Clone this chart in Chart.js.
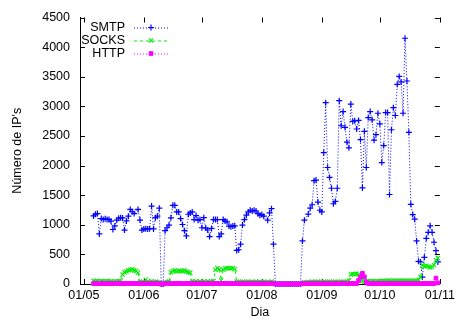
<!DOCTYPE html>
<html>
<head>
<meta charset="utf-8">
<script src="https://cdn.jsdelivr.net/npm/chart.js@4/dist/chart.umd.min.js"></script>
<style>
  html, body { margin: 0; padding: 0; background: #fff; }
  #wrap { width: 459px; height: 326px; }
</style>
</head>
<body>
<div id="wrap"><canvas id="c" width="459" height="326"></canvas></div>
<script>
// Day 0 = 1 May; one value per day from 6 May (day 5) to 31 Oct (day 183).
const FIRST_DAY = 5;

// x-axis ticks: first day of each month
const monthTickDays = [0, 31, 61, 92, 123, 153, 184];
const monthTickLabels = ['01/05', '01/06', '01/07', '01/08', '01/09', '01/10', '01/11'];

const seriesNames = ['SMTP', 'SOCKS', 'HTTP'];

// Number of distinct IPs per day, by protocol (one row per month)
const smtp = [
  /* May */ 1150, 1178, 1190, 845, 1105, 1090, 1100, 1090, 1090, 1060, 920, 980, 1080, 1110, 1120, 1115, 910, 1065, 1145, 1260, 1220, 1190, null, 1260, 1080, 910,
  /* Jun */ 930, 935, 930, 935, 1315, 930, 1120, 1145, 1280, 0, 0, 900, 950, 995, 1117, 1328, 1328, 1217, 1217, 1105, 1005, 900, 812, 1178, 1200, 1217, 1088, 1155, 1078, 1088,
  /* Jul */ 950, 1120, 945, 912, 800, 938, 1088, 1088, 1088, 800, 845, 1088, 1062, 1050, 978, 967, 978, 983, 567, 578, 672, 995, 1088, 1162, 1217, 1245, 1233, 1245, 1233, 1188, 1162,
  /* Aug */ 1172, 1145, null, 1078, 1200, 1272, 672, 0, 0, 0, 0, 0, 0, 0, 0, 0, 0, 0, 0, 0, 0, 728, 1078, null, 1180, 1280, 1338, 1745, 1755, 1383, 1245,
  /* Sep */ 1217, 2217, 3062, 1967, 1800, 1617, 1355, 1395, 1617, 3095, 2672, 2911, 2645, 2395, 2300, 3038, 2745, 2755, 2617, 2762, 2439, 1622, 2578, 1967, 2811, 2911, 2772, 2428, 2522, 2883,
  /* Oct */ 2705, 2050, 2338, 2895, 2895, 1511, 2605, 2978, 2845, 3372, 3505, 3412, 2883, 4150, 3428, 2561, 1345, 1172, 1095, 728, 383, 372, 117, 450, 772, 872, 983, 872, 705, 562, 372
];

const socks = [
  /* May */ 50, 45, 55, 40, 50, 45, 40, 50, 45, 40, 35, 45, 40, 50, 45, 160, 200, 210, 230, 240, 250, 230, 220, 190, 40, 35,
  /* Jun */ 30, 70, 40, 35, 45, 30, 40, 35, 30, 0, 0, 30, 35, 40, 200, 220, 230, 210, 225, 220, 215, 230, 210, 200, 190, 40, 35, 45, 30, 40,
  /* Jul */ 35, 40, 30, 45, 35, 40, 50, 240, 270, 250, 60, 240, 260, 270, 265, 260, 270, 250, 40, 35, 30, 40, 35, 30, 40, 35, 30, 35, 40, 30, 35,
  /* Aug */ 35, 40, 30, 35, 30, 40, 30, 0, 0, 0, 0, 0, 0, 0, 0, 0, 0, 0, 0, 0, 0, 20, 30, 25, 35, 30, 40, 35, 30, 40, 35,
  /* Sep */ 30, 40, 35, 30, 40, 35, 30, 40, 35, 30, 40, 35, 30, 40, 60, 160, 170, 165, 175, 160, 100, 50, 40, 45, 50, 40, 45, 50, 40, 45,
  /* Oct */ 50, 45, 55, 50, 60, 55, 50, 60, 55, 50, 60, 55, 50, 60, 55, 50, 60, 55, 50, 60, 70, 120, 320, 300, 310, 290, 280, 290, 320, 400, 440
];

const http = [
  /* May */ 8, 10, 6, 8, 12, 8, 6, 10, 8, 8, 6, 10, 8, 12, 8, 6, 8, 10, 8, 6, 8, 10, 8, 6, 8, 10,
  /* Jun */ 8, 6, 10, 8, 8, 12, 8, 6, 8, 0, 0, 8, 10, 8, 6, 8, 10, 8, 12, 8, 6, 8, 10, 8, 6, 8, 10, 8, 8, 6,
  /* Jul */ 10, 8, 6, 8, 12, 8, 6, 10, 8, 8, 6, 10, 8, 12, 8, 6, 8, 10, 8, 6, 8, 10, 8, 6, 8, 10, 8, 8, 6, 10, 8,
  /* Aug */ 8, 6, 10, 8, 8, 12, 8, 0, 0, 0, 0, 0, 0, 0, 0, 0, 0, 0, 0, 0, 0, 8, 10, 8, 6, 8, 10, 8, 12, 8, 6,
  /* Sep */ 8, 10, 8, 6, 8, 10, 8, 8, 6, 10, 8, 12, 8, 6, 8, 10, 8, 6, 8, 60, 120, 180, 120, 30, 10, 8, 6, 8, 10, 8,
  /* Oct */ 8, 6, 10, 8, 8, 12, 8, 6, 8, 10, 8, 6, 8, 10, 8, 12, 8, 6, 8, 10, 8, 6, 8, 10, 8, 8, 6, 10, 8, 100, 20
];

const FONT = "'Liberation Sans', Arial, Helvetica, sans-serif";
const FONT_SIZE = 12.5;

function toPoints(values) {
  return values.map((v, i) => ({ x: FIRST_DAY + i, y: v }));
}

const styles = [
  { color: '#0000ff', dash: [1, 2], pointStyle: 'cross',    radius: 3,   width: 1.2 },
  { color: '#00ee00', dash: [3, 3], pointStyle: 'crossRot', radius: 3,   width: 1.1 },
  { color: '#ff00ff', dash: [1, 2], pointStyle: 'rect',     radius: 2.6, width: 1 }
];

const seriesValues = [smtp, socks, http];

const datasets = seriesValues.map((vals, k) => ({
  label: seriesNames[k],
  data: toPoints(vals),
  borderColor: styles[k].color,
  backgroundColor: styles[k].color,
  borderWidth: 1,
  borderDash: styles[k].dash,
  pointStyle: styles[k].pointStyle,
  pointRadius: styles[k].radius,
  pointBorderWidth: styles[k].width,
  pointBorderColor: styles[k].color,
  pointBackgroundColor: styles[k].color,
  pointHoverRadius: styles[k].radius,
  tension: 0,
  spanGaps: true,
  clip: false,
  order: 2 - k
}));

// Inward tick marks on all four sides (left/bottom axes plus mirrored ticks)
const tickMarks = {
  id: 'tickMarks',
  beforeDatasetsDraw(chart) {
    const { ctx, chartArea: a, scales: { x, y } } = chart;
    ctx.save();
    ctx.strokeStyle = '#000';
    ctx.lineWidth = 1;
    ctx.beginPath();
    y.ticks.forEach(t => {
      const py = Math.round(y.getPixelForValue(t.value)) + 0.5;
      ctx.moveTo(a.left, py); ctx.lineTo(a.left + 5, py);
      ctx.moveTo(a.right - 5, py); ctx.lineTo(a.right, py);
    });
    x.ticks.forEach(t => {
      const px = Math.round(x.getPixelForValue(t.value)) + 0.5;
      ctx.moveTo(px, a.bottom); ctx.lineTo(px, a.bottom - 5);
      ctx.moveTo(px, a.top); ctx.lineTo(px, a.top + 5);
    });
    ctx.stroke();
    ctx.restore();
  }
};

// Key in the upper-left corner: name, then a line sample with its marker
const keyBox = {
  id: 'keyBox',
  afterDraw(chart) {
    const { ctx, chartArea: a } = chart;
    ctx.save();
    ctx.font = FONT_SIZE + 'px ' + FONT;
    ctx.textAlign = 'right';
    ctx.textBaseline = 'middle';
    seriesNames.forEach((name, k) => {
      const yy = a.top + 10 + k * 13;
      const st = styles[k];
      ctx.fillStyle = '#000';
      ctx.fillText(name, a.left + 45, yy);
      ctx.strokeStyle = st.color;
      ctx.lineWidth = 1;
      ctx.setLineDash(st.dash);
      ctx.beginPath();
      ctx.moveTo(a.left + 54, yy + 0.5);
      ctx.lineTo(a.left + 89, yy + 0.5);
      ctx.stroke();
      ctx.setLineDash([]);
      ctx.fillStyle = st.color;
      ctx.lineWidth = st.width;
      Chart.helpers.drawPoint(ctx, { pointStyle: st.pointStyle, radius: st.radius, borderWidth: st.width, rotation: 0 }, a.left + 71, yy);
    });
    ctx.restore();
  }
};

Chart.defaults.font.family = FONT;
Chart.defaults.font.size = FONT_SIZE;
Chart.defaults.color = '#000';

new Chart(document.getElementById('c'), {
  type: 'line',
  data: { datasets },
  options: {
    responsive: false,
    animation: false,
    devicePixelRatio: 1,
    layout: { padding: { top: 14, right: 18, left: 0, bottom: 0 } },
    plugins: { legend: { display: false }, tooltip: { enabled: false } },
    scales: {
      x: {
        type: 'linear',
        min: -2,
        max: 184,
        afterBuildTicks(scale) { scale.ticks = monthTickDays.map(v => ({ value: v })); },
        afterFit(scale) { scale.height = 42; },
        ticks: {
          autoSkip: false,
          maxRotation: 0,
          padding: 4,
          color: '#000',
          callback: v => monthTickLabels[monthTickDays.indexOf(v)]
        },
        grid: { display: false, drawTicks: false },
        border: { display: true, color: '#000', width: 1 },
        title: { display: true, text: 'Dia', color: '#000', padding: { top: 0, bottom: 6 } }
      },
      y: {
        min: 0,
        max: 4500,
        afterFit(scale) { scale.width = 80; },
        ticks: { stepSize: 500, padding: 10, color: '#000', callback: v => String(v) },
        grid: { display: false, drawTicks: false },
        border: { display: true, color: '#000', width: 1 },
        title: { display: true, text: "Número de IP's", color: '#000', padding: { top: 10, bottom: 0 } }
      }
    }
  },
  plugins: [tickMarks, keyBox]
});
</script>
</body>
</html>
